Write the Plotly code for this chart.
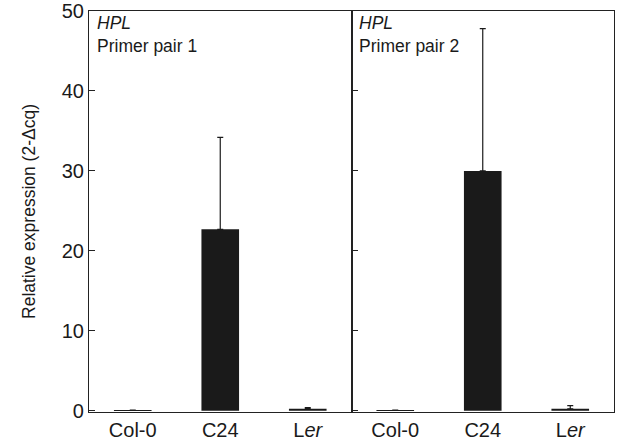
import plotly.graph_objects as go

categories = ["Col-0", "C24", "L<i>er</i>"]
pair1_values = [0.1, 22.7, 0.25]
pair1_errors = [0.0, 11.5, 0.15]
pair2_values = [0.1, 30.0, 0.25]
pair2_errors = [0.0, 17.8, 0.4]
y_ticks = [0, 10, 20, 30, 40, 50]
panel_labels = ["Primer pair 1", "Primer pair 2"]

fam = "Liberation Sans, Arial, sans-serif"
tick_font = dict(family=fam, size=20, color="#1a1a1a")
title_font = dict(family=fam, size=17.5, color="#1a1a1a")
ann_font = dict(family=fam, size=17.5, color="#1a1a1a")

fig = go.Figure()
for i, (vals, errs) in enumerate([(pair1_values, pair1_errors), (pair2_values, pair2_errors)]):
    fig.add_trace(go.Bar(
        x=categories, y=vals,
        xaxis="x" if i == 0 else "x2", yaxis="y" if i == 0 else "y2",
        marker=dict(color="#1a1a1a", line=dict(width=0)),
        width=0.43,
        error_y=dict(type="data", array=errs, arrayminus=[0] * len(errs),
                     symmetric=False, color="#1a1a1a", thickness=1.2, width=3),
        showlegend=False,
    ))

axis_line = dict(showline=True, linecolor="#222", linewidth=1.2, mirror=True)
fig.update_layout(
    width=619, height=444,
    margin=dict(l=89, r=5, t=11, b=32),
    paper_bgcolor="white", plot_bgcolor="white",
    font=tick_font,
    bargap=0.5,
    xaxis=dict(domain=[0, 0.5], ticks="", tickfont=tick_font, automargin=False, **axis_line),
    xaxis2=dict(domain=[0.5, 1], ticks="", tickfont=tick_font, anchor="y2",
                automargin=False, **axis_line),
    yaxis=dict(range=[-0.15, 50], tickvals=y_ticks, ticks="inside", ticklen=6,
               tickcolor="#222", showgrid=False, zeroline=False, tickfont=tick_font,
               automargin=False,
               title=dict(text="Relative expression (2-Δcq)", font=title_font, standoff=21),
               **axis_line),
    yaxis2=dict(range=[-0.15, 50], tickvals=y_ticks, ticks="inside", ticklen=6,
                tickcolor="#222", showgrid=False, zeroline=False, showticklabels=False,
                anchor="x2", automargin=False, **axis_line),
)

for i, lab in enumerate(panel_labels):
    xref = "x domain" if i == 0 else "x2 domain"
    fig.add_annotation(x=0.022, y=1.0, xref=xref, yref="y domain", text="<i>HPL</i>",
                       showarrow=False, xanchor="left", yanchor="top", font=ann_font)
    fig.add_annotation(x=0.022, y=0.943, xref=xref, yref="y domain", text=lab,
                       showarrow=False, xanchor="left", yanchor="top", font=ann_font)

fig.write_html("out.html")
